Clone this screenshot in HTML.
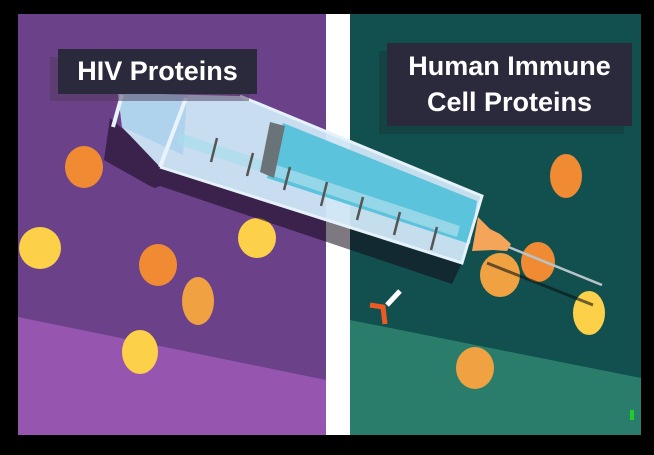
<!DOCTYPE html>
<html><head><style>
html,body{margin:0;padding:0;background:#000;}
body{width:654px;height:455px;position:relative;overflow:hidden;font-family:"Liberation Sans",sans-serif;}
.lbl{position:absolute;background:#2b2a3c;color:#fff;font-weight:bold;text-align:center;}
</style></head><body>
<svg width="654" height="455" style="position:absolute;left:0;top:0">
<rect x="0" y="0" width="654" height="455" fill="#000"/>
<rect x="18" y="14" width="308" height="421" fill="#6b418a"/>
<polygon points="18,317 326,380 326,435 18,435" fill="#9656b0"/>
<rect x="326" y="14" width="24" height="421" fill="#fff"/>
<rect x="350" y="14" width="291" height="421" fill="#12504f"/>
<polygon points="350,320 641,378 641,435 350,435" fill="#2a7d6b"/>
<!-- circles -->
<ellipse cx="84" cy="167" rx="19" ry="21" fill="#f08a33"/>
<ellipse cx="40" cy="248" rx="21" ry="21" fill="#fdd04a"/>
<ellipse cx="158" cy="265" rx="19" ry="21" fill="#f08a33"/>
<ellipse cx="257" cy="238" rx="19" ry="20" fill="#fdd04a"/>
<ellipse cx="198" cy="301" rx="16" ry="24" fill="#f0a243"/>
<ellipse cx="140" cy="352" rx="18" ry="22" fill="#fdd04a"/>
<ellipse cx="566" cy="176" rx="16" ry="22" fill="#f08a33"/>
<ellipse cx="500" cy="275" rx="20" ry="22" fill="#f0a243"/>
<ellipse cx="538" cy="262" rx="17" ry="20" fill="#f08a33"/>
<ellipse cx="589" cy="313" rx="16" ry="22" fill="#fdd04a"/>
<ellipse cx="475" cy="368" rx="19" ry="21" fill="#f0a243"/>
<!-- shadow of syringe -->
<polygon points="110,118 165,166 462,263 452,284 160,186 155,188 150,186 104,160" fill="rgb(20,10,25)" opacity="0.55"/>
<line x1="487" y1="263" x2="593" y2="305" stroke="rgb(10,20,20)" stroke-width="3" opacity="0.6"/>
<!-- antibody -->
<line x1="387" y1="305" x2="400" y2="291" stroke="#fff" stroke-width="5"/>
<polyline points="370,305 383,307 385,324" fill="none" stroke="#ee5a24" stroke-width="5"/>
<!-- needle -->
<line x1="506" y1="246" x2="602" y2="285" stroke="#b9c4c8" stroke-width="2.5"/>
<polygon points="478,217 490,229 500,234 511,244 507,251 493,250 472,251" fill="#f5a55a"/>
<!-- barrel -->
<polygon points="118,93 240,96 482,196 462,263 160,167 122,127" fill="#cfe6f5" opacity="0.95"/>
<polygon points="118,93 187,95 183,155 122,127" fill="#a9d0ec" opacity="0.8"/>
<polygon points="283,123 477,201 470,244 267,178" fill="#5bc3dc"/>
<polygon points="180,133 460,226 457,237 177,144" fill="#a8dcec" opacity="0.75"/>
<polygon points="270,122 285,126 274,178 260,172" fill="#6a7478"/>
<line x1="186" y1="98" x2="160" y2="167" stroke="#e8f3fb" stroke-width="4"/>
<line x1="122" y1="95" x2="113" y2="127" stroke="#e8f3fb" stroke-width="4"/>
<polyline points="240,96 482,196 462,263 160,167" fill="none" stroke="#e6f2fa" stroke-width="3"/>
<g stroke="#555" stroke-width="2.5">
<line x1="217" y1="138" x2="211" y2="162"/><line x1="253" y1="153" x2="247" y2="176"/>
<line x1="290" y1="167" x2="284" y2="190"/><line x1="327" y1="182" x2="321" y2="206"/>
<line x1="363" y1="197" x2="357" y2="220"/><line x1="400" y1="212" x2="394" y2="235"/>
<line x1="437" y1="227" x2="431" y2="250"/>
</g>
<rect x="630" y="410" width="4" height="10" fill="#2c2"/>
</svg>
<div class="lbl" style="left:50px;top:57px;width:199px;height:44px;background:#4f3a5a;opacity:.5"></div>
<div class="lbl" style="left:58px;top:49px;width:199px;height:45px;line-height:45px;font-size:27px;">HIV Proteins</div>
<div class="lbl" style="left:379px;top:51px;width:245px;height:83px;background:#143a3a;opacity:.6"></div>
<div class="lbl" style="left:387px;top:43px;width:245px;height:83px;font-size:27px;line-height:36px;padding-top:5px;box-sizing:border-box;">Human Immune<br>Cell Proteins</div>
</body></html>
